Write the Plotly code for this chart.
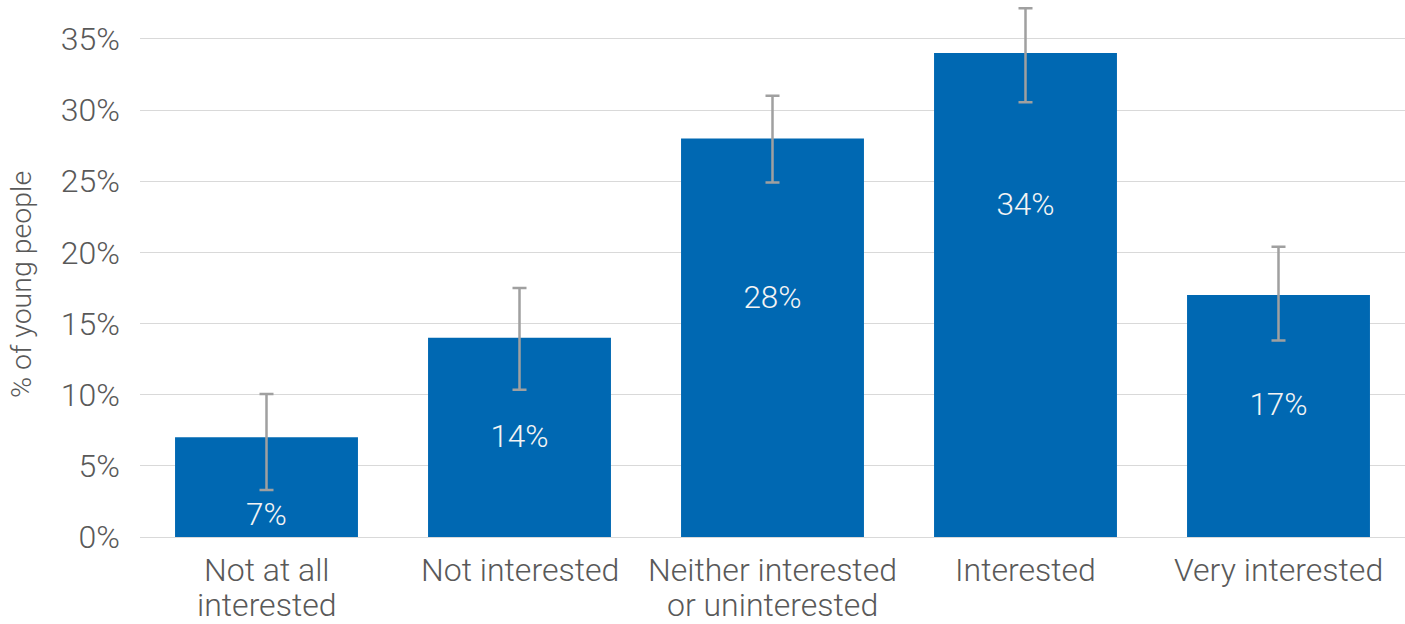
import plotly.graph_objects as go

categories = ["Not at all<br>interested", "Not interested", "Neither interested<br>or uninterested",
              "Interested", "Very interested"]
values = [7, 14, 28, 34, 17]
err_upper = [3.05, 3.5, 3.0, 3.15, 3.4]
err_lower = [3.7, 3.65, 3.1, 3.45, 3.2]
value_labels = ["7%", "14%", "28%", "34%", "17%"]
label_pos = [1.4, 6.9, 16.65, 23.15, 9.15]
y_ticks = [0, 5, 10, 15, 20, 25, 30, 35]
y_ticklabels = ["0%", "5%", "10%", "15%", "20%", "25%", "30%", "35%"]
y_title = "% of young people"

FONT = "Roboto"
GRAY = "#595959"
FS = 32

fig = go.Figure()
fig.add_trace(go.Bar(
    x=categories, y=values,
    marker=dict(color="#0068B2", line=dict(width=0)),
    error_y=dict(type="data", symmetric=False, array=err_upper, arrayminus=err_lower,
                 color="#A0A0A0", thickness=2.5, width=7),
    hoverinfo="skip",
))
fig.add_trace(go.Scatter(
    x=categories, y=label_pos, mode="text", text=value_labels,
    textfont=dict(family=FONT, size=31.5, color="#F4F4F4", weight=300),
    textposition="middle center", hoverinfo="skip",
))

# category labels as annotations (tighter line spacing than plotly tick labels)
PLOT_H = 537
line_centers_px = [570, 605]
annotations = []
for cat in categories:
    for i, line in enumerate(cat.split("<br>")):
        annotations.append(dict(
            text=line, xref="x", yref="paper", x=cat,
            y=(PLOT_H - line_centers_px[i]) / PLOT_H,
            xanchor="center", yanchor="middle", showarrow=False,
            font=dict(family=FONT, size=FS, color=GRAY, weight=300),
        ))
annotations.append(dict(
    text=y_title, textangle=-90, xref="paper", yref="paper",
    x=-0.0937, y=0.47, xanchor="center", yanchor="middle", showarrow=False,
    font=dict(family=FONT, size=28.5, color=GRAY, weight=300),
))

fig.update_layout(
    width=1405, height=624,
    margin=dict(l=140, r=0, t=0, b=87),
    plot_bgcolor="white", paper_bgcolor="white",
    showlegend=False, bargap=0.277,
    font=dict(family=FONT, size=FS, color=GRAY, weight=300),
    annotations=annotations,
)
fig.update_xaxes(
    showgrid=False, showline=False, zeroline=False,
    showticklabels=False, ticks="",
)
fig.update_yaxes(
    range=[0, 37.73], tickvals=y_ticks, ticktext=y_ticklabels,
    showgrid=True, gridcolor="#D9D9D9", gridwidth=1,
    zeroline=True, zerolinecolor="#D9D9D9", zerolinewidth=1,
    showline=False, ticks="", ticklabelstandoff=19,
    tickfont=dict(family=FONT, size=FS, color=GRAY, weight=300),
)

fig.write_html("out.html", config={"displayModeBar": False},
               post_script="document.body.style.margin='0';document.body.style.padding='0';")
